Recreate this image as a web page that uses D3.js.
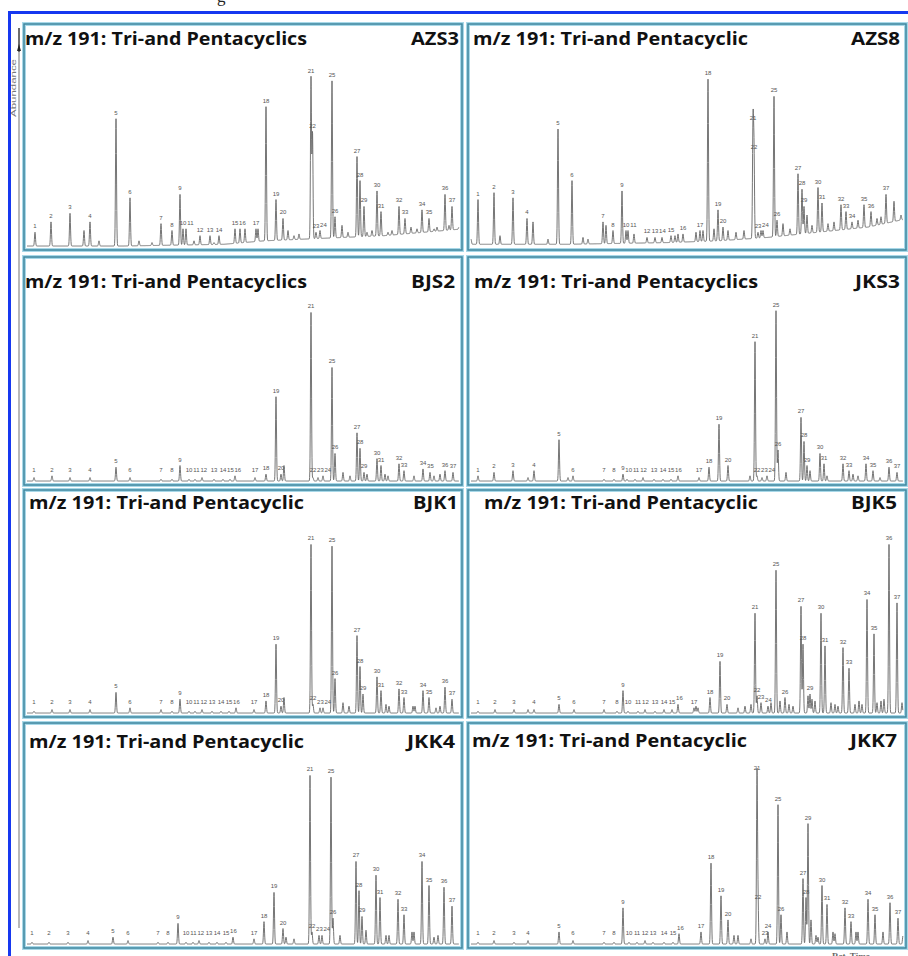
<!DOCTYPE html>
<html>
<head>
<meta charset="utf-8">
<script src="https://cdn.jsdelivr.net/npm/d3@7/dist/d3.min.js"></script>
<style>
  body { margin: 0; background: #fff; }
  svg { display: block; }
</style>
</head>
<body>
<div id="chart"></div>
<script>
// m/z 191 chromatograms, 8 samples, peaks 1..37
var svgWidth = 908;
var svgHeight = 956;

var peakNames = d3.range(1, 38).map(String);
var samples = ["AZS3", "AZS8", "BJS2", "JKS3", "BJK1", "BJK5", "JKK4", "JKK7"];
var titles = [
  "m/z 191: Tri-and Pentacyclics", "m/z 191: Tri-and Pentacyclic",
  "m/z 191: Tri-and Pentacyclics", "m/z 191: Tri-and Pentacyclics",
  "m/z 191: Tri-and Pentacyclic", "m/z 191: Tri-and Pentacyclic",
  "m/z 191: Tri-and Pentacyclic", "m/z 191: Tri-and Pentacyclic"
];

// retention time (min) and relative abundance of the 37 labelled peaks
var rtAZS3 = [21.1,22.7,24.6,26.6,29.2,30.6,33.7,34.8,35.6,35.9,36.2,37.6,38.6,39.5,41.1,41.6,43.2,44.2,45.2,45.9,48.7,48.85,49.2,49.6,50.8,51.1,53.3,53.6,54.0,55.3,55.7,57.5,58.1,59.8,60.5,62.1,62.8];
var abAZS3 = [8,14,19,14,74,28,13,9,30,10,10,6,6,6,10,10,10,81,27,16,98,66,8,9,96,17,52,38,23,32,20,23,16,21,16,30,23];
var rtAZS8 = [21.0,22.6,24.5,25.9,29.0,30.4,33.5,34.5,35.4,35.8,36.0,37.9,38.7,39.4,40.3,41.5,43.2,44.0,45.0,45.5,48.5,48.6,49.0,49.5,50.6,50.9,53.0,53.4,53.6,55.0,55.4,57.3,57.8,58.4,59.6,60.3,61.8];
var abAZS8 = [27,31,28,16,68,38,14,9,32,9,9,5,5,5,6,7,9,97,21,11,71,54,8,9,87,15,42,33,23,34,25,24,20,14,24,20,30];
var rtBJS2 = [21.0,22.8,24.6,26.6,29.2,30.6,33.7,34.8,35.6,36.5,37.1,37.8,39.0,39.9,40.6,41.1,43.1,44.2,45.2,45.7,48.7,48.9,49.4,49.9,50.8,51.1,53.3,53.6,54.0,55.3,55.7,57.5,58.0,59.9,60.6,62.1,62.9];
var abBJS2 = [2,3,2,2,8,2,1,1,9,1,1,2,1,1,1,3,2,4,49,4,98,2,2,3,66,16,28,19,5,13,9,10,6,7,5,6,5];
var rtJKS3 = [21.0,22.6,24.5,26.6,29.1,30.5,33.6,34.6,35.5,35.9,36.7,37.5,38.6,39.5,40.3,41.0,43.1,44.1,45.1,46.0,48.7,48.9,49.4,49.9,50.8,51.0,53.3,53.6,53.9,55.2,55.6,57.5,58.1,59.8,60.5,62.1,62.9];
var abJKS3 = [3,5,6,6,24,3,1,1,4,1,1,2,1,1,1,3,2,8,33,9,81,3,2,3,99,18,37,23,9,16,10,10,6,10,6,8,5];
var rtBJK1 = [21.0,22.8,24.6,26.6,29.2,30.6,33.7,34.8,35.6,36.5,37.1,37.8,38.8,39.7,40.5,41.2,43.0,44.2,45.2,45.7,48.7,48.9,49.6,49.9,50.8,51.1,53.3,53.6,53.9,55.3,55.7,57.5,58.0,59.9,60.5,62.1,62.8];
var abBJK1 = [1,2,2,2,12,3,2,1,8,1,1,2,1,1,1,3,2,7,40,4,98,5,3,3,97,20,45,27,11,21,13,14,9,13,9,15,8];
var rtBJK5 = [21.0,22.7,24.6,26.6,29.1,30.6,33.6,34.9,35.5,36.0,37.0,37.7,38.7,39.6,40.4,41.0,42.6,44.2,45.2,45.9,48.7,48.9,49.3,50.0,50.8,51.7,53.3,53.5,54.2,55.3,55.7,57.5,58.1,59.9,60.6,62.1,62.9];
var abBJK5 = [1,2,2,2,5,2,2,1,13,1,1,2,1,2,2,5,3,9,30,5,58,10,6,4,83,9,62,40,11,58,39,38,26,66,46,98,64];
var rtJKK4 = [20.8,22.5,24.4,26.4,28.9,30.4,33.4,34.4,35.4,36.2,36.9,37.5,38.5,39.3,40.2,40.9,43.0,44.0,45.0,45.9,48.6,48.8,49.5,49.8,50.7,50.9,53.2,53.5,53.8,55.2,55.6,57.4,58.0,59.8,60.5,62.0,62.8];
var abJKK4 = [1,1,1,2,4,2,1,1,12,1,1,2,1,1,1,4,3,13,30,9,98,7,5,5,97,15,48,31,16,40,27,26,17,48,34,33,22];
var rtJKK7 = [21.0,22.6,24.6,26.0,29.1,30.5,33.6,34.6,35.5,36.1,36.9,37.7,38.5,39.6,40.5,41.1,43.3,44.3,45.3,46.0,48.9,49.0,49.7,50.0,51.0,51.3,53.5,53.8,54.0,55.4,55.9,57.7,58.3,60.0,60.7,62.2,63.0];
var abJKK7 = [1,2,1,2,7,2,1,1,21,1,1,2,1,1,1,6,7,47,28,14,99,24,3,7,81,17,38,27,70,34,23,21,13,26,17,24,15];

// unlabelled minor peaks [rt, abundance]
var minorAZS3 = [[26.0,9],[27.5,3],[31.5,3],[32.8,2],[37.0,3],[39.0,2],[42.1,10],[43.4,10],[46.4,9],[47.0,6],[47.5,7],[51.8,12],[52.4,8],[54.3,8],[54.8,9],[56.4,8],[56.8,9],[58.7,11],[59.3,10],[61.0,10],[61.3,11],[62.5,12],[63.5,11]];
var minorAZS8 = [[20.3,4],[23.2,6],[26.5,14],[28.0,4],[31.5,5],[32.0,4],[33.8,12],[36.6,7],[40.7,6],[41.0,7],[42.8,8],[43.5,9],[44.6,10],[46.0,9],[46.8,8],[47.6,9],[49.3,9],[51.5,13],[52.2,10],[53.9,18],[54.4,12],[56.0,13],[56.6,14],[59.0,15],[60.9,16],[61.3,17],[62.6,26],[63.3,18]];
var minorBJS2 = [[46.0,9],[51.9,5],[52.6,3],[54.3,4],[56.1,4],[56.4,3],[59.0,3],[61.0,3],[61.6,4]];
var minorJKS3 = [[26.0,2],[30.0,2],[48.2,3],[51.8,5],[54.2,6],[55.9,3],[58.5,4],[59.0,3],[61.2,2]];
var minorBJK1 = [[46.0,9],[51.9,6],[52.5,4],[56.2,5],[56.5,4],[58.9,4],[59.1,4],[61.2,3],[61.6,4]];
var minorBJK5 = [[26.0,2],[42.8,4],[43.0,3],[47.0,3],[47.7,4],[48.3,5],[50.3,6],[51.2,7],[52.1,5],[52.5,4],[54.0,10],[54.4,8],[54.7,7],[56.3,6],[56.7,5],[57.0,4],[58.7,5],[59.1,7],[59.4,5],[60.9,6],[61.3,7],[61.6,8],[63.4,6]];
var minorJKK4 = [[46.2,4],[47.0,3],[51.6,5],[54.2,8],[56.2,5],[56.5,5],[58.8,7],[59.0,7],[61.0,4],[61.4,5]];
var minorJKK7 = [[46.6,5],[47.0,5],[48.3,3],[51.9,7],[54.3,14],[54.8,5],[55.0,4],[56.5,7],[56.7,6],[58.8,7],[59.0,7],[61.5,7],[63.5,5]];

// baseline drift [rt, abundance]
var baseAZS3 = [[20,0],[30,0],[40,1],[44,3],[48,4],[52,5],[56,6],[60,8],[64,10]];
var baseAZS8 = [[20,1],[30,1],[40,2],[45,3],[50,5],[55,8],[60,11],[64,16]];
var baseFlat = [[20,0],[64,0]];

var panels = [
  {rt: rtAZS3, ab: abAZS3, minor: minorAZS3, base: baseAZS3},
  {rt: rtAZS8, ab: abAZS8, minor: minorAZS8, base: baseAZS8},
  {rt: rtBJS2, ab: abBJS2, minor: minorBJS2, base: baseFlat},
  {rt: rtJKS3, ab: abJKS3, minor: minorJKS3, base: baseFlat},
  {rt: rtBJK1, ab: abBJK1, minor: minorBJK1, base: baseFlat},
  {rt: rtBJK5, ab: abBJK5, minor: minorBJK5, base: baseFlat},
  {rt: rtJKK4, ab: abJKK4, minor: minorJKK4, base: baseFlat},
  {rt: rtJKK7, ab: abJKK7, minor: minorJKK7, base: baseFlat}
];

// layout
var colX = [[24, 462], [468, 906]];
var rowY = [[24, 250], [257, 485], [490, 717], [723, 948]];
var titleLayout = [
  {tx: 25, tw: 282, ty: 45, sx: 459, sw: 48},
  {tx: 473, tw: 275, ty: 45, sx: 900, sw: 49},
  {tx: 25, tw: 282, ty: 288, sx: 455, sw: 44},
  {tx: 474, tw: 284, ty: 288, sx: 900, sw: 45},
  {tx: 29, tw: 275, ty: 509, sx: 458, sw: 45},
  {tx: 484, tw: 274, ty: 509, sx: 897, sw: 46},
  {tx: 29, tw: 275, ty: 748, sx: 455, sw: 48},
  {tx: 472, tw: 275, ty: 747, sx: 897, sw: 47}
];
var sigma = 0.05;

var svg = d3.select("#chart")
  .append("svg")
  .attr("width", svgWidth)
  .attr("height", svgHeight);

// cut-off caption letter above the figure
svg.append("text")
  .attr("x", 217).attr("y", 2)
  .attr("font-family", "Liberation Serif, serif")
  .attr("font-size", 17)
  .attr("fill", "#222")
  .text("g");

// blue outer frame
svg.append("path")
  .attr("d", "M9.5,956 V12.5 H908")
  .attr("fill", "none")
  .attr("stroke", "#1638f0")
  .attr("stroke-width", 3);

// abundance axis on the left
svg.append("line")
  .attr("x1", 19).attr("x2", 19)
  .attr("y1", 28).attr("y2", 928)
  .attr("stroke", "#8a8a8a")
  .attr("stroke-width", 1.2);
svg.append("line")
  .attr("x1", 19).attr("x2", 19)
  .attr("y1", 28).attr("y2", 52)
  .attr("stroke", "#222")
  .attr("stroke-width", 1);
svg.append("path")
  .attr("d", "M19,44 L17,51 L21,51 Z")
  .attr("fill", "#222");
svg.append("text")
  .attr("transform", "translate(16, 88) rotate(-90)")
  .attr("text-anchor", "middle")
  .attr("font-family", "Liberation Sans, Arial, sans-serif")
  .attr("font-size", 7)
  .attr("textLength", 58)
  .attr("lengthAdjust", "spacingAndGlyphs")
  .attr("fill", "#777")
  .text("Abundance");

panels.forEach(function(p, i) {
  var col = i % 2;
  var row = Math.floor(i / 2);
  var x0 = colX[col][0], x1 = colX[col][1];
  var y0 = rowY[row][0], y1 = rowY[row][1];
  var lay = titleLayout[i];

  var xScale = d3.scaleLinear().domain([20, 64]).range([x0, x0 + 440]);
  var yScale = d3.scaleLinear().domain([0, 100]).range([y1 - 4, y1 - 176]);
  var base = d3.scaleLinear()
    .domain(p.base.map(d => d[0]))
    .range(p.base.map(d => d[1]))
    .clamp(true);

  var g = svg.append("g");

  // panel frame
  g.append("rect")
    .attr("x", x0).attr("y", y0)
    .attr("width", x1 - x0).attr("height", y1 - y0)
    .attr("fill", "#fff")
    .attr("stroke", "#a8d8e8")
    .attr("stroke-width", 4);
  g.append("rect")
    .attr("x", x0).attr("y", y0)
    .attr("width", x1 - x0).attr("height", y1 - y0)
    .attr("fill", "none")
    .attr("stroke", "#3f879f")
    .attr("stroke-width", 1.5);

  // peaks above the local baseline
  var peaks = p.rt.map((r, k) => [r, p.ab[k]]).concat(p.minor)
    .map(d => [d[0], Math.max(0, d[1] - base(d[0]))]);

  var r0 = xScale.invert(x0 + 3), r1 = xScale.invert(x1 - 3);
  var pts = [];
  for (var r = r0; r <= r1; r += 0.02) {
    var v = base(r);
    peaks.forEach(function(pk) {
      var z = (r - pk[0]) / sigma;
      if (Math.abs(z) < 6) v += pk[1] * Math.exp(-0.5 * z * z);
    });
    pts.push([r, v]);
  }

  var line = d3.line()
    .x(d => xScale(d[0]))
    .y(d => yScale(d[1]));

  g.append("path")
    .datum(pts)
    .attr("d", line)
    .attr("fill", "none")
    .attr("stroke", "#666")
    .attr("stroke-width", 0.9);

  // peak number positions, nudged apart where they would collide
  var labels = p.rt.map(function(d, k) {
    return {
      name: peakNames[k],
      x: xScale(d),
      y: Math.min(yScale(p.ab[k]) - 4, yScale(base(d)) - 9),
      w: peakNames[k].length * 3.4
    };
  });
  for (var k = 1; k < labels.length; k++) {
    for (var j = k - 1; j >= Math.max(0, k - 3); j--) {
      var a = labels[j], b = labels[k];
      var gap = (a.w + b.w) / 2 + 0.6;
      if (Math.abs(a.y - b.y) < 6 && b.x - a.x < gap) b.x = a.x + gap;
    }
  }

  g.selectAll("text.pk")
    .data(labels)
    .enter()
    .append("text")
    .attr("class", "pk")
    .attr("x", d => d.x)
    .attr("y", d => d.y)
    .attr("text-anchor", "middle")
    .attr("font-family", "Liberation Sans, Arial, sans-serif")
    .attr("font-size", 6)
    .attr("fill", "#555")
    .text(d => d.name);

  // titles
  g.append("text")
    .attr("x", lay.tx).attr("y", lay.ty)
    .attr("font-family", "'Open Sans', sans-serif")
    .attr("font-weight", "bold")
    .attr("font-size", 18)
    .attr("textLength", lay.tw)
    .attr("lengthAdjust", "spacingAndGlyphs")
    .attr("fill", "#111")
    .text(titles[i]);

  g.append("text")
    .attr("x", lay.sx - lay.sw).attr("y", lay.ty)
    .attr("font-family", "'Open Sans', sans-serif")
    .attr("font-weight", "bold")
    .attr("font-size", 18)
    .attr("textLength", lay.sw)
    .attr("lengthAdjust", "spacingAndGlyphs")
    .attr("fill", "#111")
    .text(samples[i]);
});

// x axis caption, cut at the bottom edge
svg.append("text")
  .attr("x", 832).attr("y", 959)
  .attr("font-family", "Liberation Serif, serif")
  .attr("font-weight", "bold")
  .attr("font-size", 9)
  .attr("fill", "#666")
  .text("Ret. Time");
</script>
</body>
</html>
